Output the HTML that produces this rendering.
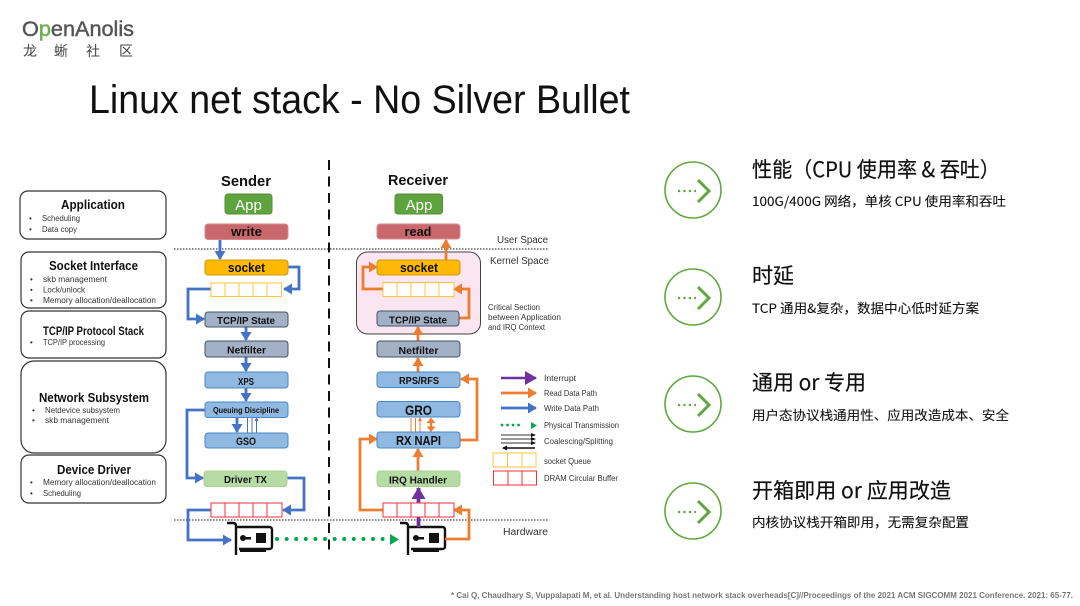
<!DOCTYPE html>
<html><head><meta charset="utf-8"><style>
html,body{margin:0;padding:0;background:#fff;width:1080px;height:606px;overflow:hidden}
svg{display:block;filter:blur(.3px)}
text{font-family:"Liberation Sans","Noto Sans CJK SC",sans-serif}
.cjk{font-family:"Noto Sans CJK SC","Liberation Sans",sans-serif}
.h{font-weight:bold;text-anchor:middle;fill:#111}
.b{font-size:8px;fill:#333}
.n{font-weight:bold;text-anchor:middle;fill:#111}
.l{font-size:8.5px;fill:#333}
.bx{fill:none;stroke:#333;stroke-width:1.2}
.bl{fill:none;stroke:#4472c4;stroke-width:2.8}
.or{fill:none;stroke:#ed7d31;stroke-width:2.8}
.cg{fill:none;stroke:#5fa83f;stroke-width:1.6}
.hd{font-size:21px;fill:#111;stroke:#111;stroke-width:.2}
.sb{font-size:13px;fill:#111;stroke:#111;stroke-width:.1}
.dt{stroke:#5fa83f;stroke-width:2.2;stroke-dasharray:2.2 3.2;fill:none}
.ch{stroke:#5fa83f;stroke-width:3;fill:none}
</style></head><body>
<svg width="1080" height="606" viewBox="0 0 1080 606" xmlns="http://www.w3.org/2000/svg">
<defs>
<marker id="ab" markerUnits="userSpaceOnUse" markerWidth="9" markerHeight="11" refX="8" refY="5.500" orient="auto"><path d="M0 0L9 5.500L0 11z" fill="#4472c4"/></marker>
<marker id="ao" markerUnits="userSpaceOnUse" markerWidth="9" markerHeight="11" refX="8" refY="5.500" orient="auto"><path d="M0 0L9 5.500L0 11z" fill="#ed7d31"/></marker>
<marker id="ap" markerUnits="userSpaceOnUse" markerWidth="12" markerHeight="14" refX="11" refY="7" orient="auto"><path d="M0 0L12 7L0 14z" fill="#7030a0"/></marker>
<marker id="ak" markerUnits="userSpaceOnUse" markerWidth="5" markerHeight="5" refX="4" refY="2.5" orient="auto"><path d="M0 0L5 2.5L0 5z" fill="#111"/></marker>
<marker id="tb" markerUnits="userSpaceOnUse" markerWidth="4" markerHeight="4" refX="3" refY="2" orient="auto"><path d="M0 0L4 2L0 4z" fill="#4472c4"/></marker>
<marker id="to" markerUnits="userSpaceOnUse" markerWidth="4" markerHeight="4" refX="3" refY="2" orient="auto"><path d="M0 0L4 2L0 4z" fill="#ed7d31"/></marker>
</defs>

<!-- Logo -->
<text x="22" y="36" style="font-size:21.5px" fill="#555" stroke="#555" stroke-width=".45" textLength="112" lengthAdjust="spacingAndGlyphs">O<tspan fill="#6ab04c" stroke="#6ab04c">p</tspan>enAnolis</text>
<text class="cjk" x="23" y="56" style="font-size:14px" fill="#444">龙</text>
<text class="cjk" x="54" y="56" style="font-size:14px" fill="#444">蜥</text>
<text class="cjk" x="86" y="56" style="font-size:14px" fill="#444">社</text>
<text class="cjk" x="119" y="56" style="font-size:14px" fill="#444">区</text>

<!-- Title -->
<text x="89" y="113" style="font-size:40px" fill="#111" textLength="541" lengthAdjust="spacingAndGlyphs">Linux net stack - No Silver Bullet</text>

<!-- Left boxes -->
<rect class="bx" x="20" y="191" width="146" height="48" rx="8"/>
<text class="h" x="93" y="209" style="font-size:12.500px" textLength="64" lengthAdjust="spacingAndGlyphs">Application</text>
<text class="b" x="29" y="221">•</text><text class="b" x="42" y="221" textLength="38" lengthAdjust="spacingAndGlyphs">Scheduling</text>
<text class="b" x="29" y="232">•</text><text class="b" x="42" y="232" textLength="35" lengthAdjust="spacingAndGlyphs">Data copy</text>

<rect class="bx" x="21" y="252" width="145" height="56" rx="8"/>
<text class="h" x="93.500" y="270" style="font-size:12.500px" textLength="89" lengthAdjust="spacingAndGlyphs">Socket Interface</text>
<text class="b" x="30" y="282">•</text><text class="b" x="43" y="282" textLength="64" lengthAdjust="spacingAndGlyphs">skb management</text>
<text class="b" x="30" y="292.500">•</text><text class="b" x="43" y="292.500" textLength="42" lengthAdjust="spacingAndGlyphs">Lock/unlock</text>
<text class="b" x="30" y="303">•</text><text class="b" x="43" y="303" textLength="113" lengthAdjust="spacingAndGlyphs">Memory allocation/deallocation</text>

<rect class="bx" x="21" y="311" width="145" height="47" rx="8"/>
<text class="h" x="93.500" y="335" style="font-size:11.500px" textLength="101" lengthAdjust="spacingAndGlyphs">TCP/IP Protocol Stack</text>
<text class="b" x="30" y="345">•</text><text class="b" x="43" y="345" textLength="62" lengthAdjust="spacingAndGlyphs">TCP/IP processing</text>

<rect class="bx" x="21" y="361" width="145" height="92" rx="13"/>
<text class="h" x="94" y="402" style="font-size:12.500px" textLength="110" lengthAdjust="spacingAndGlyphs">Network Subsystem</text>
<text class="b" x="32" y="413">•</text><text class="b" x="45" y="413" textLength="75" lengthAdjust="spacingAndGlyphs">Netdevice subsystem</text>
<text class="b" x="32" y="423">•</text><text class="b" x="45" y="423" textLength="64" lengthAdjust="spacingAndGlyphs">skb management</text>

<rect class="bx" x="21" y="455" width="145" height="48" rx="8"/>
<text class="h" x="94" y="474" style="font-size:12.500px" textLength="74" lengthAdjust="spacingAndGlyphs">Device Driver</text>
<text class="b" x="30" y="485">•</text><text class="b" x="43" y="485" textLength="113" lengthAdjust="spacingAndGlyphs">Memory allocation/deallocation</text>
<text class="b" x="30" y="496">•</text><text class="b" x="43" y="496" textLength="38" lengthAdjust="spacingAndGlyphs">Scheduling</text>

<!-- Pink critical section -->
<rect x="356.500" y="252" width="124" height="82" rx="11" fill="#fbe5f0" stroke="#444" stroke-width="1"/>

<!-- Dividers -->
<path d="M329 160V556" stroke="#111" stroke-width="2" stroke-dasharray="10 6.500" fill="none"/>
<path d="M174 249H549" stroke="#111" stroke-width="1" stroke-dasharray="1.500 1.500" fill="none"/>
<path d="M174 520H549" stroke="#111" stroke-width="1" stroke-dasharray="1.500 1.500" fill="none"/>

<text class="h" x="246" y="186" style="font-size:15px" textLength="50" lengthAdjust="spacingAndGlyphs">Sender</text>
<text class="h" x="418" y="185" style="font-size:15px" textLength="60" lengthAdjust="spacingAndGlyphs">Receiver</text>

<!-- Sender arrows -->
<g>
<path class="bl" d="M220 240V259" marker-end="url(#ab)"/>
<path class="bl" d="M288 267H299V289H284" marker-end="url(#ab)"/>
<path class="bl" d="M211 289H188V319H204" marker-end="url(#ab)"/>
<path class="bl" d="M246 327V340" marker-end="url(#ab)"/>
<path class="bl" d="M246 357V371" marker-end="url(#ab)"/>
<path class="bl" d="M246 388V401" marker-end="url(#ab)"/>
<path class="bl" d="M205 410H187V478H203" marker-end="url(#ab)"/>
<path class="bl" d="M237 417V432" marker-end="url(#ab)"/>
<path d="M247.500 433V418M252 433V418M256.500 433V418" stroke="#4472c4" stroke-width="1" fill="none" marker-end="url(#tb)"/>
<path class="bl" d="M287 478H304V510H283" marker-end="url(#ab)"/>
<path class="bl" d="M211 510H188V540H231" marker-end="url(#ab)"/>
</g>

<!-- Sender boxes -->
<rect x="225" y="194" width="47" height="20" rx="3" fill="#5fa33e" stroke="#548f37"/>
<text x="248.500" y="210" style="font-size:15px" fill="#fff" text-anchor="middle">App</text>
<rect x="205" y="224" width="83" height="15.500" rx="3" fill="#c9686c" stroke="#d98a8d"/>
<text class="h" x="246.500" y="236" style="font-size:13px" textLength="31" lengthAdjust="spacingAndGlyphs">write</text>
<rect x="205" y="260" width="83" height="15" rx="3" fill="#ffb900" stroke="#c99a10"/>
<text class="h" x="246.500" y="272" style="font-size:13px" textLength="37" lengthAdjust="spacingAndGlyphs">socket</text>
<rect x="211" y="283" width="70.500" height="13.500" fill="#fff" stroke="#ffc738" stroke-width="1"/>
<path d="M225 283V296.500M239 283V296.500M253 283V296.500M267 283V296.500" stroke="#ffc738"/>
<rect x="205" y="312" width="83" height="15" rx="3" fill="#a3b1c6" stroke="#44546a"/>
<text class="n" x="246" y="324" style="font-size:10.500px" textLength="58" lengthAdjust="spacingAndGlyphs">TCP/IP State</text>
<rect x="205" y="341" width="83" height="16" rx="3" fill="#a3b1c6" stroke="#44546a"/>
<text class="n" x="246.500" y="353.500" style="font-size:10.500px" textLength="39" lengthAdjust="spacingAndGlyphs">Netfilter</text>
<rect x="205" y="372" width="83" height="16" rx="3" fill="#8fb9e0" stroke="#4a86c5"/>
<text class="n" x="246" y="385" style="font-size:10px" textLength="16" lengthAdjust="spacingAndGlyphs">XPS</text>
<rect x="205" y="402" width="83" height="15.500" rx="3" fill="#8fb9e0" stroke="#4a86c5"/>
<text class="n" x="246" y="413" style="font-size:8.500px" textLength="66" lengthAdjust="spacingAndGlyphs">Queuing Discipline</text>
<rect x="205" y="433" width="83" height="15" rx="3" fill="#8fb9e0" stroke="#4a86c5"/>
<text class="n" x="246" y="445" style="font-size:11px" textLength="20" lengthAdjust="spacingAndGlyphs">GSO</text>
<rect x="204" y="471" width="83" height="15.500" rx="3" fill="#b7dba5" stroke="#a9d18e"/>
<text class="n" x="245.500" y="483" style="font-size:10.500px" textLength="43" lengthAdjust="spacingAndGlyphs">Driver TX</text>
<rect x="211" y="503" width="71" height="14" fill="#fff" stroke="#f0303a" stroke-width="1"/>
<path d="M225 503V517M239 503V517M253 503V517M267 503V517" stroke="#f0303a"/>

<!-- NICs -->
<g fill="none" stroke="#111" stroke-width="2.400">
<path d="M227 523H233C235 523 236 524 236 526V555M236 527H269C271.500 527 272 528 272 530V546C272 548 271.500 549 269 549H239"/>
<path d="M400 523H405C407 523 408 524 408 526V555M408 527H442C444.500 527 445 528 445 530V546C445 548 444.500 549 442 549H411"/>
</g>
<g fill="#111">
<rect x="256" y="533" width="10" height="10"/><circle cx="243" cy="538" r="3"/><rect x="243" y="537" width="8" height="2.500"/><rect x="240" y="548" width="26" height="4"/>
<rect x="429" y="533" width="10" height="10"/><circle cx="416" cy="538" r="3"/><rect x="416" y="537" width="8" height="2.500"/><rect x="413" y="548" width="26" height="4"/>
</g>
<!-- Physical link -->
<path d="M277 539H389" stroke="#00a651" stroke-width="4" stroke-linecap="round" stroke-dasharray="0 9.600" fill="none"/>
<path d="M390 534L399 539.500L390 545z" fill="#00a651"/>

<!-- Receiver arrows -->
<g>
<path class="or" d="M446 260V240" marker-end="url(#ao)"/>
<path class="or" d="M383 289H363V267H377" marker-end="url(#ao)"/>
<path class="or" d="M459 318H469V289H454" marker-end="url(#ao)"/>
<path class="or" d="M418 341V327" marker-end="url(#ao)"/>
<path class="or" d="M418 372V358" marker-end="url(#ao)"/>
<path class="or" d="M460 440H477V379H461" marker-end="url(#ao)"/>
<path d="M411 432V418M415.500 432V418M420 432V418" stroke="#ed7d31" stroke-width="1" fill="none" marker-end="url(#to)"/>
<path d="M431 420V430" stroke="#ed7d31" stroke-width="2.400" fill="none"/>
<path d="M431 417.500L426.500 423H435.500zM431 432L426.500 426.500H435.500z" fill="#ed7d31"/>
<path class="or" d="M418 471V449" marker-end="url(#ao)"/>
<path class="or" d="M383 510H360V439H377" marker-end="url(#ao)"/>
<path class="or" d="M445 539H469V510H454" marker-end="url(#ao)"/>
<path d="M418.500 527V488" stroke="#7030a0" stroke-width="3.800" marker-end="url(#ap)" fill="none"/>
</g>

<!-- Receiver boxes -->
<rect x="395" y="194" width="47.500" height="20" rx="3" fill="#5fa33e" stroke="#548f37"/>
<text x="419" y="210" style="font-size:15px" fill="#fff" text-anchor="middle">App</text>
<rect x="377" y="224" width="83" height="15" rx="3" fill="#c9686c" stroke="#d98a8d"/>
<text class="h" x="418" y="236" style="font-size:13px" textLength="27" lengthAdjust="spacingAndGlyphs">read</text>
<rect x="377" y="260" width="83" height="15" rx="3" fill="#ffb900" stroke="#c99a10"/>
<text class="h" x="419" y="272" style="font-size:13px" textLength="38" lengthAdjust="spacingAndGlyphs">socket</text>
<rect x="383" y="282.500" width="71" height="14" fill="#fff" stroke="#ffc738"/>
<path d="M397 282.500V296.500M411 282.500V296.500M425 282.500V296.500M439 282.500V296.500" stroke="#ffc738"/>
<rect x="377" y="311" width="82" height="15" rx="3" fill="#a3b1c6" stroke="#44546a"/>
<text class="n" x="418" y="323.500" style="font-size:10.500px" textLength="58" lengthAdjust="spacingAndGlyphs">TCP/IP State</text>
<rect x="377" y="341" width="83" height="16" rx="3" fill="#a3b1c6" stroke="#44546a"/>
<text class="n" x="418.500" y="354" style="font-size:10.500px" textLength="40" lengthAdjust="spacingAndGlyphs">Netfilter</text>
<rect x="377" y="372" width="83" height="15.500" rx="3" fill="#8fb9e0" stroke="#4a86c5"/>
<text class="n" x="419" y="384" style="font-size:10.500px" textLength="40" lengthAdjust="spacingAndGlyphs">RPS/RFS</text>
<rect x="377" y="401.500" width="83" height="15.500" rx="3" fill="#8fb9e0" stroke="#4a86c5"/>
<text class="h" x="418.500" y="415" style="font-size:14px" textLength="27" lengthAdjust="spacingAndGlyphs">GRO</text>
<rect x="377" y="432" width="83" height="16" rx="3" fill="#8fb9e0" stroke="#4a86c5"/>
<text class="h" x="418.500" y="445" style="font-size:13px" textLength="45" lengthAdjust="spacingAndGlyphs">RX NAPI</text>
<rect x="377" y="471" width="83" height="15.500" rx="3" fill="#b7dba5" stroke="#a9d18e"/>
<text class="n" x="418" y="483.500" style="font-size:10.500px" textLength="58" lengthAdjust="spacingAndGlyphs">IRQ Handler</text>
<rect x="383" y="503" width="71" height="14" fill="#fff" stroke="#f0303a"/>
<path d="M397 503V517M411 503V517M425 503V517M439 503V517" stroke="#f0303a"/>

<!-- Space labels -->
<text x="497" y="243" style="font-size:10px" fill="#333" textLength="51" lengthAdjust="spacingAndGlyphs">User Space</text>
<text x="490" y="264" style="font-size:10px" fill="#333" textLength="59" lengthAdjust="spacingAndGlyphs">Kernel Space</text>
<text x="503" y="535" style="font-size:10px" fill="#333" textLength="45" lengthAdjust="spacingAndGlyphs">Hardware</text>
<text x="488" y="310" style="font-size:8px" fill="#333" textLength="52" lengthAdjust="spacingAndGlyphs">Critical Section</text>
<text x="488" y="320" style="font-size:8px" fill="#333" textLength="73" lengthAdjust="spacingAndGlyphs">between Application</text>
<text x="488" y="330" style="font-size:8px" fill="#333" textLength="57" lengthAdjust="spacingAndGlyphs">and IRQ Context</text>

<!-- Legend -->
<path d="M501 378H536" stroke="#7030a0" stroke-width="2.500" marker-end="url(#ap)" fill="none"/>
<text class="l" x="544" y="381" textLength="32" lengthAdjust="spacingAndGlyphs">Interrupt</text>
<path class="or" d="M501 393H536" marker-end="url(#ao)"/>
<text class="l" x="544" y="396" textLength="53" lengthAdjust="spacingAndGlyphs">Read Data Path</text>
<path class="bl" d="M501 408H536" marker-end="url(#ab)"/>
<text class="l" x="544" y="411" textLength="55" lengthAdjust="spacingAndGlyphs">Write Data Path</text>
<path d="M502 425H524" stroke="#00a651" stroke-width="2.800" stroke-linecap="round" stroke-dasharray="0 5.500" fill="none"/>
<path d="M531 422L537 425.500L531 429z" fill="#00a651"/>
<text class="l" x="544" y="428" textLength="75" lengthAdjust="spacingAndGlyphs">Physical Transmission</text>
<path d="M501 435H535M501 439H535M501 443H535" stroke="#333" stroke-width="1" fill="none"/>
<path d="M531 433L536 435L531 437zM531 437L536 439L531 441zM531 441L536 443L531 445z" fill="#111"/>
<path d="M535 448H503" stroke="#111" stroke-width="1.500" marker-end="url(#ak)" fill="none"/>
<text class="l" x="544" y="444" textLength="69" lengthAdjust="spacingAndGlyphs">Coalescing/Splitting</text>
<rect x="493" y="453" width="43" height="14" fill="#fff" stroke="#ffc738"/>
<path d="M507.500 453V467M522 453V467" stroke="#ffc738"/>
<text class="l" x="544" y="464" textLength="47" lengthAdjust="spacingAndGlyphs">socket Queue</text>
<rect x="493.500" y="471" width="43" height="14" fill="#fff" stroke="#f0303a"/>
<path d="M508 471V485M522 471V485" stroke="#f0303a"/>
<text class="l" x="544" y="481" textLength="74" lengthAdjust="spacingAndGlyphs">DRAM Circular Buffer</text>

<!-- Right side -->
<g id="icons">
<circle class="cg" cx="693" cy="190" r="28"/><path class="dt" d="M678 191H696"/><path class="ch" d="M698 180L709 191L698 202"/>
<circle class="cg" cx="693" cy="297" r="28"/><path class="dt" d="M678 298H696"/><path class="ch" d="M698 287L709 298L698 309"/>
<circle class="cg" cx="693" cy="404" r="28"/><path class="dt" d="M678 405H696"/><path class="ch" d="M698 394L709 405L698 416"/>
<circle class="cg" cx="693" cy="511" r="28"/><path class="dt" d="M678 512H696"/><path class="ch" d="M698 501L709 512L698 523"/>
</g>
<text class="cjk hd" x="752" y="177" textLength="248" lengthAdjust="spacingAndGlyphs">性能（CPU 使用率 &amp; 吞吐）</text>
<text class="cjk sb" x="752" y="206" textLength="254" lengthAdjust="spacingAndGlyphs">100G/400G 网络，单核 CPU 使用率和吞吐</text>
<text class="cjk hd" x="752" y="283">时延</text>
<text class="cjk sb" x="752" y="313" textLength="227" lengthAdjust="spacingAndGlyphs">TCP 通用&amp;复杂，数据中心低时延方案</text>
<text class="cjk hd" x="752" y="390" textLength="114" lengthAdjust="spacingAndGlyphs">通用 or 专用</text>
<text class="cjk sb" x="752" y="420" textLength="257" lengthAdjust="spacingAndGlyphs">用户态协议栈通用性、应用改造成本、安全</text>
<text class="cjk hd" x="752" y="498" textLength="199" lengthAdjust="spacingAndGlyphs">开箱即用 or 应用改造</text>
<text class="cjk sb" x="752" y="527" textLength="217" lengthAdjust="spacingAndGlyphs">内核协议栈开箱即用，无需复杂配置</text>

<!-- Citation -->
<text x="451" y="598" style="font-size:8.500px" font-weight="bold" fill="#777" textLength="622" lengthAdjust="spacingAndGlyphs">* Cai Q, Chaudhary S, Vuppalapati M, et al. Understanding host network stack overheads[C]//Proceedings of the 2021 ACM SIGCOMM 2021 Conference. 2021: 65-77.</text>
</svg>
</body></html>
